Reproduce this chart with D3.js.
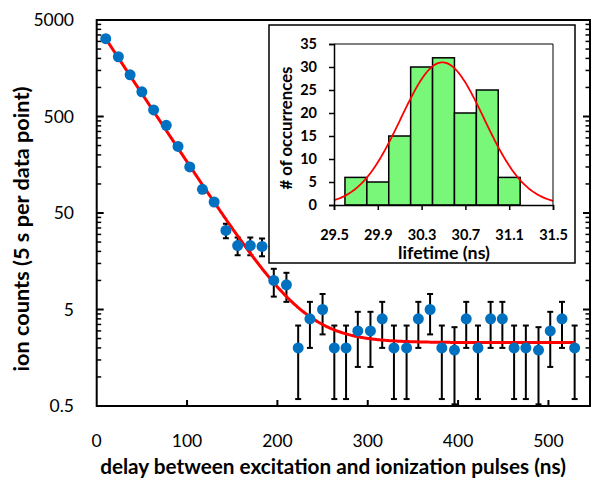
<!DOCTYPE html>
<html>
<head>
<meta charset="utf-8">
<script src="https://cdn.jsdelivr.net/npm/d3@7"></script>
<style>
  html, body { margin: 0; padding: 0; background: #fff; }
  svg { display: block; font-family: Lato, "Open Sans", sans-serif; }
</style>
</head>
<body>
<svg id="chart" width="594" height="481"></svg>
<script>
// main plot: ion counts vs. delay
var delays = [10, 24, 37, 50, 63, 77, 90, 103, 117, 130, 143, 156, 170, 183, 196, 210,
  223, 236, 250, 263, 276, 289, 303, 316, 329, 343, 356, 369, 382, 396, 409, 422,
  436, 449, 462, 475, 489, 502, 515, 529];
var counts = [3200, 2080, 1350, 900, 585, 405, 245, 150, 88, 65, 33, 23, 23, 22.5, 10, 9,
  2, 4, 5, 2, 2, 3, 3, 4, 2, 2, 4, 5, 2, 1.9, 4, 2,
  4, 4, 2, 2, 1.9, 3, 4, 2];
var errors = [57, 46, 37, 30, 24, 20, 16, 12, 9.4, 8.1, 5.7, 4.8, 4.8, 4.7, 3.2, 3,
  1.41, 2, 2.24, 1.41, 1.41, 1.73, 1.73, 2, 1.41, 1.41, 2, 2.24, 1.41, 1.38, 2, 1.41,
  2, 2, 1.41, 1.41, 1.38, 1.73, 2, 1.41];
var xTicks = [0, 100, 200, 300, 400, 500];
var yTicks = [0.5, 5, 50, 500, 5000];

// fitted decay: A * exp(-t / tau) + background
var fitAmp = 4442, fitTau = 30.5, fitBg = 2.27;
var fitRange = [10, 529];

// inset histogram of lifetimes
var binStarts = [29.6, 29.8, 30.0, 30.2, 30.4, 30.6, 30.8, 31.0];
var binCounts = [6, 5, 15, 30, 32, 20, 25, 6];
var binWidth = 0.2;
var histXTicks = [29.5, 29.9, 30.3, 30.7, 31.1, 31.5];
var histYTicks = [0, 5, 10, 15, 20, 25, 30, 35];
var gaussMean = 30.49, gaussSigma = 0.38, gaussPeak = 31;

var svg = d3.select('#chart');

var x = d3.scaleLinear().domain([0, 546]).range([96.7, 590]);
var y = d3.scaleLog().domain([0.5, 5000]).range([406, 20]);

// minor ticks for the log axis: k * 0.5 * 10^n
var minorTicks = [];
yTicks.slice(0, -1).forEach(function(base) {
  for (var k = 2; k <= 9; k++) minorTicks.push(base * k);
});

function fitText(sel, width) {
  var size = parseFloat(sel.style('font-size'));
  var len = sel.node().getComputedTextLength();
  sel.style('font-size', (size * width / len) + 'px');
}

svg.append('clipPath').attr('id', 'plotClip')
  .append('rect')
  .attr('x', x.range()[0]).attr('y', y.range()[1])
  .attr('width', x.range()[1] - x.range()[0])
  .attr('height', y.range()[0] - y.range()[1]);

var plot = svg.append('g');

// frame
plot.append('rect')
  .attr('x', x.range()[0]).attr('y', y.range()[1])
  .attr('width', x.range()[1] - x.range()[0])
  .attr('height', y.range()[0] - y.range()[1])
  .attr('fill', 'none').attr('stroke', '#000').attr('stroke-width', 2);

// y ticks, left and right, pointing inward
[[x.range()[0], 1], [x.range()[1], -1]].forEach(function(side) {
  plot.selectAll(null).data(yTicks.slice(1, -1)).enter().append('line')
    .attr('x1', side[0]).attr('x2', side[0] + side[1] * 7)
    .attr('y1', y).attr('y2', y)
    .attr('stroke', '#000').attr('stroke-width', 2);
  plot.selectAll(null).data(minorTicks).enter().append('line')
    .attr('x1', side[0]).attr('x2', side[0] + side[1] * 4.5)
    .attr('y1', y).attr('y2', y)
    .attr('stroke', '#000').attr('stroke-width', 1.5);
});

plot.selectAll(null).data(xTicks.slice(1)).enter().append('line')
  .attr('x1', x).attr('x2', x)
  .attr('y1', y.range()[0]).attr('y2', y.range()[0] - 6)
  .attr('stroke', '#000').attr('stroke-width', 2);

plot.selectAll(null).data(yTicks).enter().append('text')
  .attr('x', 74).attr('y', y).attr('dy', '0.36em')
  .attr('text-anchor', 'end')
  .style('font-size', '17.5px')
  .text(function(d) { return d; });

plot.selectAll(null).data(xTicks).enter().append('text')
  .attr('x', x).attr('y', 447)
  .attr('text-anchor', 'middle')
  .style('font-size', '17.5px')
  .text(function(d) { return d; });

plot.append('text')
  .attr('x', 333).attr('y', 474)
  .attr('text-anchor', 'middle')
  .style('font-size', '19px').style('font-weight', 'bold')
  .text('delay between excitation and ionization pulses (ns)')
  .call(fitText, 466);

plot.append('text')
  .attr('transform', 'translate(29,229) rotate(-90)')
  .attr('text-anchor', 'middle')
  .style('font-size', '19px').style('font-weight', 'bold')
  .text('ion counts (5 s per data point)')
  .call(fitText, 285);

// data
var marks = plot.append('g').attr('clip-path', 'url(#plotClip)');
var pts = d3.range(delays.length).map(function(i) {
  return { t: delays[i], v: counts[i], e: errors[i] };
});

var bars = marks.selectAll('g.err').data(pts.filter(function(d) { return d.e / d.v > 0.15; }))
  .enter().append('g').attr('class', 'err')
  .attr('stroke', '#000').attr('stroke-width', 2);
bars.append('line')
  .attr('x1', function(d) { return x(d.t); }).attr('x2', function(d) { return x(d.t); })
  .attr('y1', function(d) { return y(d.v + d.e); })
  .attr('y2', function(d) { return y(Math.max(d.v - d.e, 0.3)); });
bars.append('line')
  .attr('x1', function(d) { return x(d.t) - 3; }).attr('x2', function(d) { return x(d.t) + 3; })
  .attr('y1', function(d) { return y(d.v + d.e); }).attr('y2', function(d) { return y(d.v + d.e); });
bars.filter(function(d) { return d.v - d.e > 0.5; }).append('line')
  .attr('x1', function(d) { return x(d.t) - 3; }).attr('x2', function(d) { return x(d.t) + 3; })
  .attr('y1', function(d) { return y(d.v - d.e); }).attr('y2', function(d) { return y(d.v - d.e); });

var fitLine = d3.line()
  .x(function(t) { return x(t); })
  .y(function(t) { return y(fitAmp * Math.exp(-t / fitTau) + fitBg); });
marks.append('path')
  .datum(d3.range(fitRange[0], fitRange[1] + 0.5, 1))
  .attr('d', fitLine)
  .attr('fill', 'none').attr('stroke', '#ff0000').attr('stroke-width', 3);

marks.selectAll('circle').data(pts).enter().append('circle')
  .attr('cx', function(d) { return x(d.t); })
  .attr('cy', function(d) { return y(d.v); })
  .attr('r', 5.5)
  .attr('fill', '#0070c0');

// inset
var inset = svg.append('g');
inset.append('rect')
  .attr('x', 269).attr('y', 25).attr('width', 306).attr('height', 238)
  .attr('fill', '#fff').attr('stroke', '#000').attr('stroke-width', 1.5);

var hx = d3.scaleLinear().domain([29.5, 31.5]).range([334, 553]);
var hy = d3.scaleLinear().domain([0, 35]).range([205, 44]);

inset.selectAll('rect.bin').data(binStarts).enter().append('rect')
  .attr('class', 'bin')
  .attr('x', function(d) { return hx(d); })
  .attr('y', function(d, i) { return hy(binCounts[i]); })
  .attr('width', function(d) { return hx(d + binWidth) - hx(d); })
  .attr('height', function(d, i) { return hy(0) - hy(binCounts[i]); })
  .attr('fill', '#79f779').attr('stroke', '#000').attr('stroke-width', 1.5);

var gauss = d3.line()
  .x(function(v) { return hx(v); })
  .y(function(v) {
    var z = (v - gaussMean) / gaussSigma;
    return hy(gaussPeak * Math.exp(-0.5 * z * z));
  });
inset.append('path')
  .datum(d3.range(29.5, 31.501, 0.01))
  .attr('d', gauss)
  .attr('fill', 'none').attr('stroke', '#ff0000').attr('stroke-width', 1.8);

// plot area border top/right, axes left/bottom
inset.append('path')
  .attr('d', 'M' + hx(29.5) + ',' + hy(35) + 'H' + hx(31.5) + 'V' + hy(0))
  .attr('fill', 'none').attr('stroke', '#000').attr('stroke-width', 1);

var hAxisX = inset.append('g').attr('transform', 'translate(0,' + hy(0) + ')')
  .call(d3.axisBottom(hx).tickValues(histXTicks).tickSize(5).tickFormat(d3.format('.1f')));
var hAxisY = inset.append('g').attr('transform', 'translate(' + hx(29.5) + ',0)')
  .call(d3.axisLeft(hy).tickValues(histYTicks).tickSize(5));

[hAxisX, hAxisY].forEach(function(ax) {
  ax.select('.domain').attr('stroke-width', 1.5);
  ax.selectAll('.tick line').attr('stroke-width', 1.5);
  ax.selectAll('.tick text')
    .style('font-family', 'Lato, sans-serif')
    .style('font-size', '14.5px').style('font-weight', 'bold').attr('fill', '#000');
});
hAxisX.selectAll('.tick text').attr('y', 0).attr('dy', 0)
  .attr('transform', 'translate(0,' + (239.5 - hy(0)) + ')');
hAxisY.selectAll('.tick text').attr('x', 317 - hx(29.5));

inset.append('text')
  .attr('x', 444).attr('y', 258.5)
  .attr('text-anchor', 'middle')
  .style('font-size', '15px').style('font-weight', 'bold')
  .text('lifetime (ns)')
  .call(fitText, 92);

inset.append('text')
  .attr('transform', 'translate(292,128) rotate(-90)')
  .attr('text-anchor', 'middle')
  .style('font-size', '15px').style('font-weight', 'bold')
  .text('# of occurrences')
  .call(fitText, 123);
</script>
</body>
</html>
